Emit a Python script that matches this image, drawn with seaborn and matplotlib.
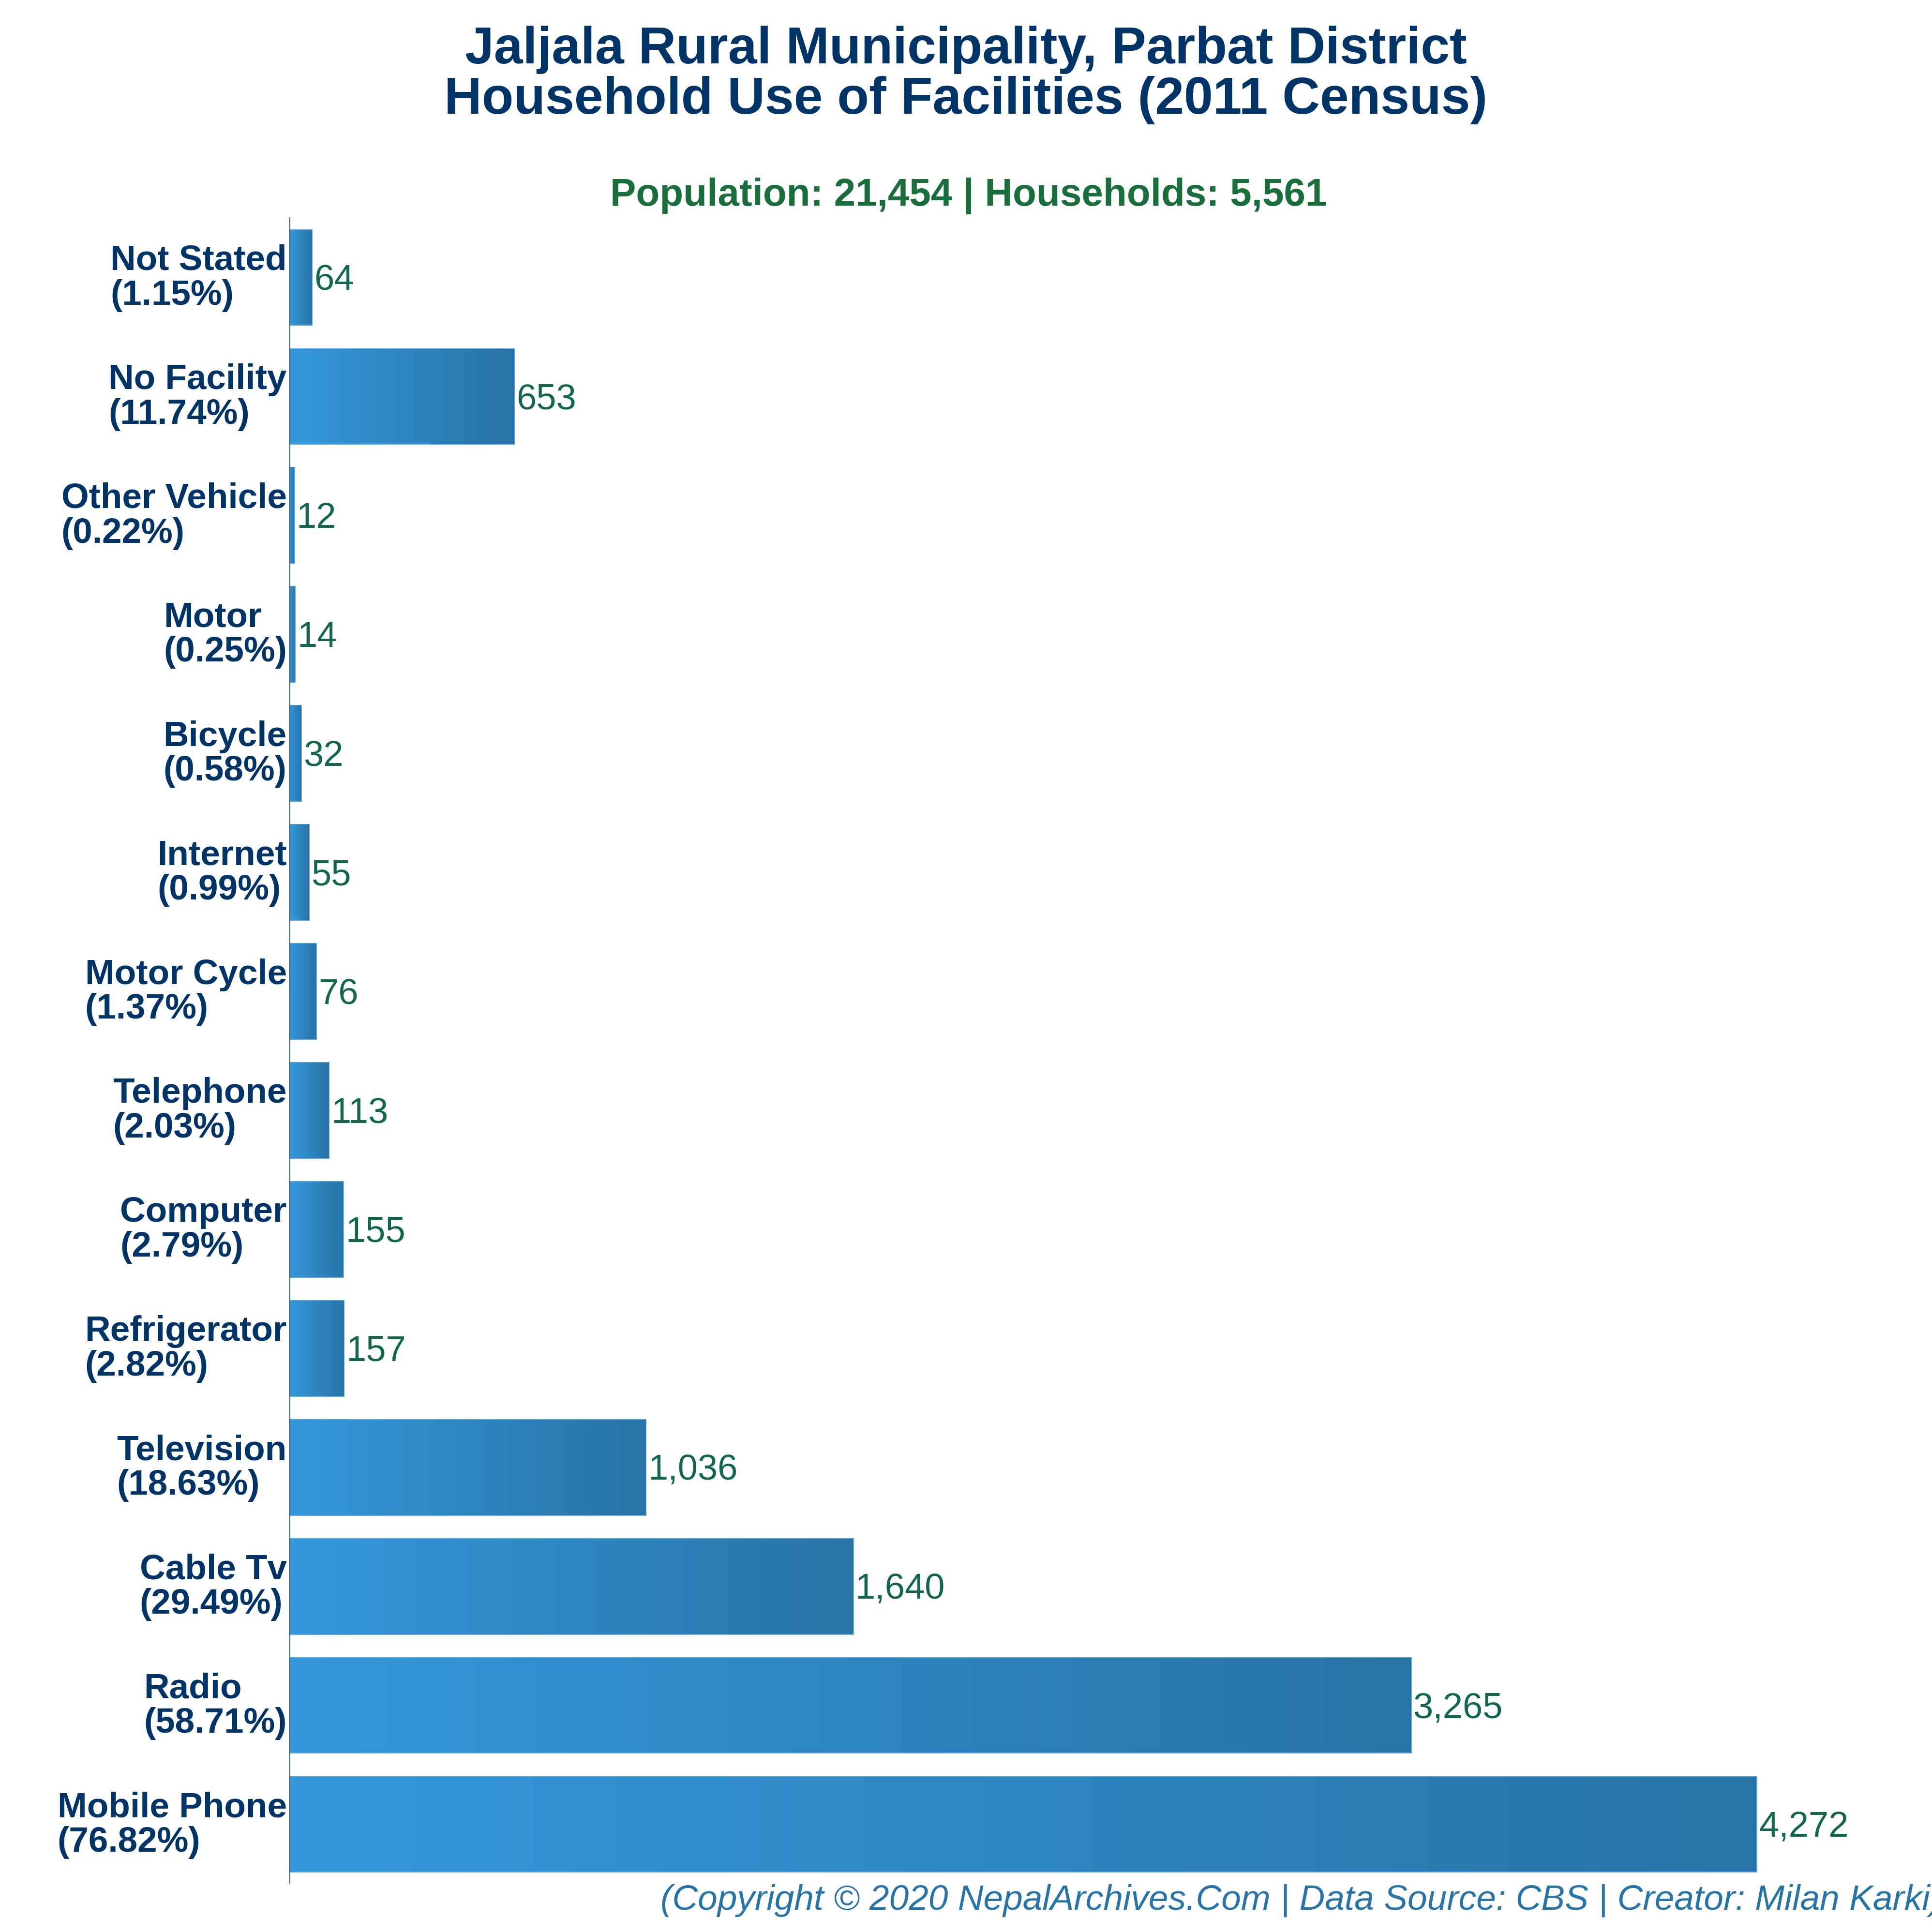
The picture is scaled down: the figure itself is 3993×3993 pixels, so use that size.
import numpy as np
import pandas as pd
import seaborn as sns
import matplotlib.pyplot as plt
from matplotlib.colors import LinearSegmentedColormap
from matplotlib.transforms import ScaledTranslation

# top to bottom as in the picture
facilities = ['Not Stated', 'No Facility', 'Other Vehicle', 'Motor', 'Bicycle', 'Internet', 'Motor Cycle',
              'Telephone', 'Computer', 'Refrigerator', 'Television', 'Cable Tv', 'Radio', 'Mobile Phone']
households = [64, 653, 12, 14, 32, 55, 76, 113, 155, 157, 1036, 1640, 3265, 4272]
percents = ['1.15', '11.74', '0.22', '0.25', '0.58', '0.99', '1.37',
            '2.03', '2.79', '2.82', '18.63', '29.49', '58.71', '76.82']

NAVY = '#003366'
GREEN = '#1a6e3c'
VALUE_GREEN = '#136650'
FOOT_BLUE = '#2874a6'

sns.set_theme(style='white')
plt.rcParams['font.family'] = ['Liberation Sans', 'DejaVu Sans']

df = pd.DataFrame({'facility': facilities, 'households': households})

fig = plt.figure(figsize=(13.31, 13.31), dpi=300)
ax = fig.add_axes([599 / 3993, 1 - 3893 / 3993, 1 - 599 / 3993, (3893 - 450) / 3993])

sns.barplot(data=df, x='households', y='facility', order=facilities, color='#3498db', width=0.8,
            edgecolor='#5aa5e8', linewidth=0.7, ax=ax)

# gradient fill inside each bar
cmap = LinearSegmentedColormap.from_list('bar', ['#3498db', '#2874a6'])
grad = np.linspace(0, 1, 256).reshape(1, -1)
for bar in ax.patches:
    x0, y0 = bar.get_x(), bar.get_y()
    w, h = bar.get_width(), bar.get_height()
    im = ax.imshow(grad, cmap=cmap, extent=[x0, x0 + w, y0 + h, y0], aspect='auto', zorder=bar.get_zorder() + 0.1)
    im.set_clip_path(bar)

ax.set_xlim(0, (3993 - 599) / 0.7095)
ax.set_ylim(13.5, -0.5)

for i, v in enumerate(households):
    ax.annotate(f'{v:,}', (v, i), xytext=(1.2, -1.7), textcoords='offset points', va='center', ha='left',
                fontsize=17.8, color=VALUE_GREEN)

ax.set_xlabel('')
ax.set_ylabel('')
ax.set_xticks([])
ax.set_yticks(range(len(facilities)))
ax.set_yticklabels([f'{f}\n({p}%)' for f, p in zip(facilities, percents)], fontsize=17.5, fontweight='bold',
                   color=NAVY, linespacing=1.07, multialignment='left')
ax.tick_params(axis='y', length=0, pad=1.5)

# labels sit a little above the bar centres
lift = ScaledTranslation(0, 1.8 / 72, fig.dpi_scale_trans)
for lab in ax.get_yticklabels():
    lab.set_transform(lab.get_transform() + lift)

sns.despine(ax=ax, top=True, right=True, bottom=True)
ax.spines['left'].set_color(NAVY)
ax.spines['left'].set_linewidth(0.4)

fig.text(0.5, 1 - 155 / 3993, 'Jaljala Rural Municipality, Parbat District\nHousehold Use of Facilities (2011 Census)',
         ha='center', va='center', fontsize=25.8, fontweight='bold', color=NAVY, linespacing=1.05)
fig.text(786 * 2.5466 / 3993, 1 - 405 / 3993, 'Population: 21,454 | Households: 5,561',
         ha='center', va='center', fontsize=19.2, fontweight='bold', color=GREEN)
fig.text(1365 / 3993, 1 - 3928 / 3993, '(Copyright © 2020 NepalArchives.Com | Data Source: CBS | Creator: Milan Karki)',
         ha='left', va='center', fontsize=17.55, style='italic', color=FOOT_BLUE)

fig.savefig('out.png', dpi=300, facecolor='white')
